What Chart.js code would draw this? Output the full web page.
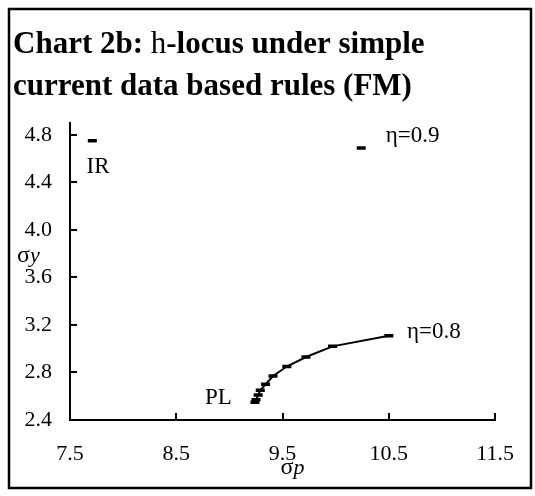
<!DOCTYPE html>
<html>
<head>
<meta charset="utf-8">
<script src="https://cdn.jsdelivr.net/npm/chart.js@4.4.1/dist/chart.umd.min.js"></script>
<style>
  html, body { margin: 0; padding: 0; background: #fff; }
</style>
</head>
<body>
<canvas id="chart" width="535" height="496"></canvas>
<script>
// eta = 0.8 locus, from PL end up to the eta=0.8 end
const locusX = [9.24, 9.25, 9.27, 9.29, 9.34, 9.41, 9.54, 9.72, 9.97, 10.50];
const locusY = [2.55, 2.57, 2.61, 2.65, 2.70, 2.77, 2.85, 2.93, 3.02, 3.11];
// single points
const irPoint = [7.71, 4.75];
const eta09Point = [10.24, 4.69];

const xTicks = [7.5, 8.5, 9.5, 10.5, 11.5];
const yTicks = [2.4, 2.8, 3.2, 3.6, 4.0, 4.4, 4.8];

// text labels, placed in data units (left edge, vertical middle)
const noteText = ["IR", "\u03b7=0.9", "\u03b7=0.8", "PL"];
const noteX = [7.655, 10.47, 10.67, 8.77];
const noteY = [4.53, 4.79, 3.14, 2.585];

const SERIF = "'Liberation Serif', 'Times New Roman', serif";

function runs(ctx, parts, x, y) {
  parts.forEach(([t, f]) => {
    ctx.font = f;
    ctx.fillText(t, x, y);
    x += ctx.measureText(t).width;
  });
}

function runsWidth(ctx, parts) {
  let w = 0;
  parts.forEach(([t, f]) => { ctx.font = f; w += ctx.measureText(t).width; });
  return w;
}

const decor = {
  id: "decor",
  beforeDraw(chart) {
    const ctx = chart.ctx;
    ctx.save();
    ctx.fillStyle = "#fff";
    ctx.fillRect(0, 0, chart.width, chart.height);
    ctx.strokeStyle = "#000";
    ctx.lineWidth = 2.5;
    ctx.strokeRect(9, 9, 522, 479);

    ctx.fillStyle = "#000";
    ctx.textBaseline = "alphabetic";
    ctx.textAlign = "left";
    const b = "bold 31px " + SERIF, r = "31px " + SERIF;
    runs(ctx, [["Chart 2b: ", b], ["h", r], ["-locus under simple", b]], 13, 53);
    runs(ctx, [["current data based rules (FM)", b]], 13, 95);

    // axis titles
    const a = chart.chartArea;
    const sig = "24px " + SERIF, it = "italic 22px " + SERIF;
    const xt = [["\u03c3", sig], ["p", it]];
    runs(ctx, xt, (a.left + a.right) / 2 + 10 - runsWidth(ctx, xt) / 2, 474);
    runs(ctx, [["\u03c3", sig], ["y", it]], 17, 262);
    ctx.restore();
  },
  afterDraw(chart) {
    const ctx = chart.ctx;
    const xs = chart.scales.x, ys = chart.scales.y;
    ctx.save();
    ctx.strokeStyle = "#000";
    ctx.lineWidth = 2;
    ctx.beginPath();
    xTicks.forEach(v => {
      const px = Math.round(xs.getPixelForValue(v));
      ctx.moveTo(px, ys.bottom);
      ctx.lineTo(px, ys.bottom - 7);
    });
    yTicks.forEach(v => {
      const py = Math.round(ys.getPixelForValue(v));
      ctx.moveTo(xs.left, py);
      ctx.lineTo(xs.left + 7, py);
    });
    ctx.stroke();

    ctx.fillStyle = "#000";
    ctx.font = "23px " + SERIF;
    ctx.textAlign = "left";
    ctx.textBaseline = "middle";
    noteText.forEach((t, i) => {
      ctx.fillText(t, xs.getPixelForValue(noteX[i]), ys.getPixelForValue(noteY[i]));
    });
    ctx.restore();
  }
};

const dash = {
  pointStyle: "line",
  pointRadius: 4.5,
  pointHoverRadius: 4.5,
  pointBorderWidth: 3.5,
  pointBorderColor: "#000",
  borderColor: "#000"
};

new Chart("chart", {
  type: "scatter",
  data: {
    datasets: [
      Object.assign({
        label: "eta 0.8",
        data: locusX.map((x, i) => ({ x: x, y: locusY[i] })),
        showLine: true,
        borderWidth: 2,
        tension: 0
      }, dash),
      Object.assign({ label: "IR", showLine: false, data: [{ x: irPoint[0], y: irPoint[1] }] }, dash),
      Object.assign({ label: "eta 0.9", showLine: false, data: [{ x: eta09Point[0], y: eta09Point[1] }] }, dash)
    ]
  },
  options: {
    responsive: false,
    animation: false,
    layout: { padding: { left: 0, right: 27, top: 123, bottom: 0 } },
    plugins: {
      legend: { display: false },
      tooltip: { enabled: false }
    },
    scales: {
      x: {
        type: "linear",
        min: 7.5,
        max: 11.5,
        afterFit: (s) => { s.height = 76; },
        afterBuildTicks: (s) => { s.ticks = xTicks.map(v => ({ value: v })); },
        grid: { display: false, drawTicks: false },
        border: { display: true, color: "#000", width: 2 },
        ticks: {
          color: "#000",
          padding: 21,
          font: { family: SERIF, size: 22 },
          callback: (v) => v.toFixed(1)
        }
      },
      y: {
        type: "linear",
        min: 2.4,
        max: 4.9,
        afterFit: (s) => { s.width = 70; },
        afterBuildTicks: (s) => { s.ticks = yTicks.map(v => ({ value: v })); },
        grid: { display: false, drawTicks: false },
        border: { display: true, color: "#000", width: 2 },
        ticks: {
          color: "#000",
          padding: 18,
          font: { family: SERIF, size: 22 },
          callback: (v) => v.toFixed(1)
        }
      }
    }
  },
  plugins: [decor]
});
</script>
</body>
</html>
